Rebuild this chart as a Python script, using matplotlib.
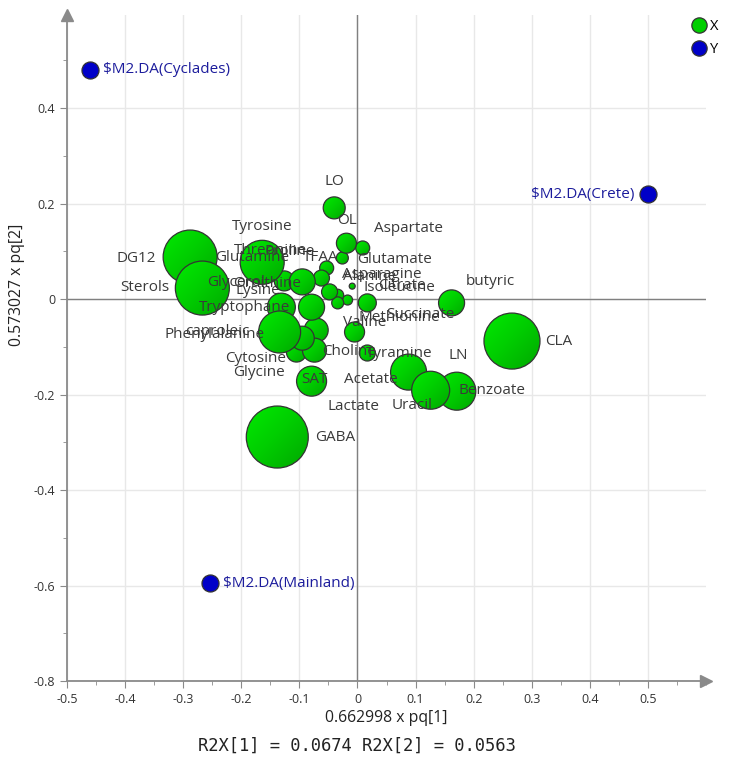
import numpy as np
import matplotlib
matplotlib.use('Agg')
import matplotlib.pyplot as plt
from matplotlib.lines import Line2D
from matplotlib.patches import Ellipse
from matplotlib.colors import LinearSegmentedColormap
from matplotlib.ticker import MultipleLocator, FuncFormatter

plt.rcParams['font.family'] = ['Open Sans', 'DejaVu Sans']

# variables (X block)
names = ['LO', 'OL', 'Aspartate', 'Tyrosine', 'Threonine', 'Proline', 'TFAA',
         'Glutamine', 'DG12', 'Glutamate', 'Asparagine', 'Alanine', 'Glycerol',
         'Ornithine', 'Lysine', 'Citrate', 'Isoleucine', 'butyric', 'Sterols',
         'Tryptophane', 'Methionine', 'Succinate', 'Valine', 'caproleic',
         'Phenylalanine', 'CLA', 'Choline', 'Tyramine', 'Cytosine', 'LN',
         'Glycine', 'SAT', 'Acetate', 'Benzoate', 'Lactate', 'Uracil', 'GABA']
pq1 = [-0.040, -0.019, 0.009, -0.164, -0.155, -0.062, -0.053,
       -0.178, -0.288, -0.026, -0.009, -0.048, -0.126,
       -0.095, -0.079, -0.017, -0.034, 0.162, -0.267,
       -0.131, -0.034, 0.017, -0.005, -0.134,
       -0.071, 0.266, -0.074, 0.017, -0.095, 0.088,
       -0.105, -0.079, 0.114, 0.171, 0.116, 0.126, -0.138]
pq2 = [0.191, 0.117, 0.107, 0.077, 0.090, 0.044, 0.065,
       0.069, 0.088, 0.086, 0.027, 0.015, 0.038,
       0.036, -0.017, -0.002, 0.008, -0.008, 0.023,
       -0.017, -0.008, -0.008, -0.069, -0.069,
       -0.065, -0.088, -0.107, -0.113, -0.082, -0.153,
       -0.111, -0.172, -0.182, -0.193, -0.201, -0.191, -0.289]
weight = [1.1, 1.0, 0.7, 2.2, 0.8, 0.8, 0.7,
          0.8, 2.7, 0.6, 0.3, 0.8, 1.0,
          1.3, 1.3, 0.5, 0.6, 1.3, 2.7,
          1.4, 0.6, 0.9, 1.0, 2.1,
          1.2, 2.8, 1.2, 0.8, 1.2, 1.8,
          1.0, 1.5, 0.6, 1.9, 0.8, 1.9, 3.1]

# responses (Y block)
y_names = ['$M2.DA(Cyclades)', '$M2.DA(Crete)', '$M2.DA(Mainland)']
y_pq1 = [-0.460, 0.500, -0.253]
y_pq2 = [0.480, 0.220, -0.595]

# label placement, pixels from the marker centre
label_off = {
    'LO': (0, 26), 'OL': (1, 23), 'Aspartate': (46, 19), 'Tyrosine': (0, 36),
    'Threonine': (3, 6), 'Proline': (-32, 27), 'TFAA': (-6, 11),
    'Glutamine': (-2, 9), 'DG12': (-54, -1), 'Glutamate': (52, -2),
    'Asparagine': (30, 12), 'Alanine': (40, 15), 'Glycerol': (-48, -2),
    'Ornithine': (-35, -2), 'Lysine': (-54, 17), 'Citrate': (54, 15),
    'Isoleucine': (62, 8), 'butyric': (39, 21), 'Sterols': (-58, 1),
    'Tryptophane': (-37, 0), 'Methionine': (62, -15), 'Succinate': (53, -12),
    'Valine': (10, 9), 'caproleic': (-62, 0), 'Phenylalanine': (-102, -4),
    'CLA': (47, 0), 'Choline': (35, -1), 'Tyramine': (32, 0),
    'Cytosine': (-47, -20), 'LN': (50, 17), 'Glycine': (-37, -20),
    'SAT': (3, 2), 'Acetate': (-53, 6), 'Benzoate': (35, 1),
    'Lactate': (-71, -11), 'Uracil': (-19, -15), 'GABA': (58, 0),
}

green = '#00cf00'
blue = '#0000c8'
edge = '#333333'
bubble_cmap = LinearSegmentedColormap.from_list('bub', ['#00ea00', '#00cc00', '#00a800'])

fig = plt.figure(figsize=(7.46, 7.57), dpi=100)
ax = fig.add_axes([0.0898, 0.1004, 0.8566, 0.8798])

xlim = (-0.5, 0.6)
ylim = (-0.8, 0.595)

ax.xaxis.set_major_locator(MultipleLocator(0.1))
ax.xaxis.set_minor_locator(MultipleLocator(0.05))
ax.yaxis.set_major_locator(MultipleLocator(0.2))
ax.yaxis.set_minor_locator(MultipleLocator(0.1))
fmt = FuncFormatter(lambda v, p: '{:g}'.format(round(v, 2)))
ax.xaxis.set_major_formatter(fmt)
ax.yaxis.set_major_formatter(fmt)

ax.grid(True, which='major', color='#e8e8e8', lw=1, zorder=0)
ax.set_axisbelow(True)
ax.axhline(0, color='#808080', lw=1, zorder=1)
ax.axvline(0, color='#808080', lw=1, zorder=1)

for s in ['top', 'right']:
    ax.spines[s].set_visible(False)
for s in ['left', 'bottom']:
    ax.spines[s].set_color('#8a8a8a')
    ax.spines[s].set_linewidth(1.3)
ax.plot(0, 1, '^', color='#8a8a8a', ms=9, transform=ax.transAxes, clip_on=False)
ax.plot(1, 0, '>', color='#8a8a8a', ms=9, transform=ax.transAxes, clip_on=False)

ax.tick_params(which='both', direction='out', color='#8a8a8a', labelcolor='#333333',
               labelsize=9)
ax.tick_params(which='major', length=5)
ax.tick_params(which='minor', length=3)

# pixels per data unit, so bubbles come out round
bw = ax.get_position().width * fig.get_figwidth() * fig.dpi
bh = ax.get_position().height * fig.get_figheight() * fig.dpi
sx = bw / (xlim[1] - xlim[0])
sy = bh / (ylim[1] - ylim[0])

# diagonal shading, light top-left to dark bottom-right
g = np.linspace(0, 1, 64)
grad = (g[None, :] + g[:, None]) / 2

# bubbles, small ones first so the big ones sit on top
order = np.argsort(weight, kind='stable')
for k, i in enumerate(order):
    r = weight[i] * 10
    w, h = 2 * r / sx, 2 * r / sy
    x, y = pq1[i], pq2[i]
    z = 3 + k * 0.01
    ell = Ellipse((x, y), w, h, facecolor='none', edgecolor=edge, lw=0.9, zorder=z + 0.005)
    ax.add_patch(ell)
    im = ax.imshow(grad, cmap=bubble_cmap, extent=[x - w / 2, x + w / 2, y - h / 2, y + h / 2],
                   origin='upper', aspect='auto', interpolation='bilinear', zorder=z)
    im.set_clip_path(ell)

for n, x, y in zip(names, pq1, pq2):
    dx, dy = label_off[n]
    ax.annotate(n, (x, y), xytext=(dx, dy), textcoords='offset pixels',
                ha='center', va='center', fontsize=11, color='#3a3a3a', zorder=4)

ax.scatter(y_pq1, y_pq2, s=150, c=blue, edgecolors=edge, linewidths=0.9, zorder=3)
for n, x, y in zip(y_names, y_pq1, y_pq2):
    right = x > 0.3
    ax.annotate(n, (x, y), xytext=(-14 if right else 13, 0), textcoords='offset pixels',
                ha='right' if right else 'left', va='center', fontsize=11,
                color='#1c1c9c', parse_math=False, zorder=4)

ax.set_xlim(*xlim)
ax.set_ylim(*ylim)
ax.set_xticks([v / 10 for v in range(-5, 6)])

ax.set_xlabel('0.662998 x pq[1]', fontsize=11.3, color='#222222')
ax.set_ylabel('0.573027 x pq[2]', fontsize=11.3, color='#222222')
ax.xaxis.set_label_coords(0.50, -0.043)
ax.yaxis.set_label_coords(-0.066, 0.595)

fig.text(0.479, 0.0145, 'R2X[1] = 0.0674 R2X[2] = 0.0563', family='DejaVu Sans Mono',
         fontsize=12.3, ha='center', va='center', color='#222222')

handles = [Line2D([], [], marker='o', ls='', ms=11, markerfacecolor=green,
                  markeredgecolor=edge, markeredgewidth=0.9),
           Line2D([], [], marker='o', ls='', ms=11, markerfacecolor=blue,
                  markeredgecolor=edge, markeredgewidth=0.9)]
fig.legend(handles, ['X', 'Y'], loc='upper left', bbox_to_anchor=(0.919, 0.982),
           frameon=False, fontsize=10.5, handletextpad=0.25, labelspacing=0.55,
           handlelength=1.0, borderaxespad=0)

fig.savefig('out.png', dpi=100)
